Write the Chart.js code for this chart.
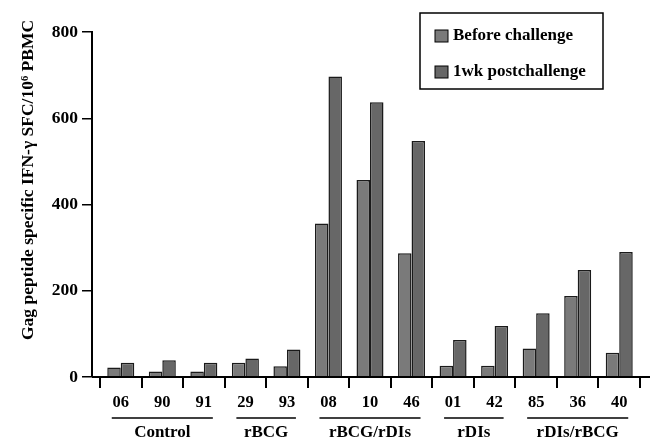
<!DOCTYPE html>
<html>
<head>
<meta charset="utf-8">
<script src="https://cdn.jsdelivr.net/npm/chart.js@4"></script>
<style>
  html, body { margin: 0; padding: 0; background: #fff; }
  canvas { display: block; }
</style>
</head>
<body>
<canvas id="gagChart" width="655" height="443"></canvas>
<script>
// values
const animals = ['06', '90', '91', '29', '93', '08', '10', '46', '01', '42', '85', '36', '40'];
const beforeChallenge = [22, 13, 13, 33, 25, 356, 457, 287, 26, 26, 66, 188, 56];
const postChallenge = [33, 39, 33, 43, 64, 697, 637, 547, 86, 118, 148, 248, 290];
const groupNames = ['Control', 'rBCG', 'rBCG/rDIs', 'rDIs', 'rDIs/rBCG'];
const groupSizes = [3, 2, 3, 2, 3];
const yTicks = [0, 200, 400, 600, 800];

const serif = "'Liberation Serif', 'Times New Roman', serif";
Chart.defaults.font.family = serif;
Chart.defaults.color = '#000';

const beforeColor = '#7a7a7a';
const postColor = '#676767';

// axis title, baseline, group labels and legend box
const extras = {
    id: 'extras',
    afterDraw(chart) {
        const ctx = chart.ctx;
        const area = chart.chartArea;
        const x = chart.scales.x;
        const y = chart.scales.y;
        ctx.save();

        // baseline from the y axis to the right end
        const y0 = y.getPixelForValue(0);
        ctx.strokeStyle = '#000';
        ctx.lineWidth = 2;
        ctx.beginPath();
        ctx.moveTo(y.right, y0);
        ctx.lineTo(area.right + 10, y0);
        ctx.stroke();

        // y title
        ctx.save();
        ctx.translate(28, 180);
        ctx.rotate(-Math.PI / 2);
        ctx.font = 'bold 17.5px ' + serif;
        ctx.textAlign = 'center';
        ctx.textBaseline = 'middle';
        ctx.fillStyle = '#000';
        ctx.fillText('Gag peptide specific IFN-\u03b3 SFC/10\u2076 PBMC', 0, 0);
        ctx.restore();

        // group underlines and names
        let start = 0;
        ctx.font = 'bold 17px ' + serif;
        ctx.textAlign = 'center';
        ctx.textBaseline = 'middle';
        groupNames.forEach((name, i) => {
            const end = start + groupSizes[i] - 1;
            const x1 = x.getPixelForValue(start) - 9;
            const x2 = x.getPixelForValue(end) + 9;
            ctx.lineWidth = 1.5;
            ctx.beginPath();
            ctx.moveTo(x1, 418);
            ctx.lineTo(x2, 418);
            ctx.stroke();
            ctx.fillText(name, (x1 + x2) / 2, 433);
            start = end + 1;
        });

        // legend
        const bx = area.right - 220, by = area.top - 19, bw = 183, bh = 76;
        ctx.lineWidth = 1.5;
        ctx.strokeRect(bx, by, bw, bh);
        ctx.textAlign = 'left';
        chart.data.datasets.forEach((ds, i) => {
            const cy = by + 23 + i * 36;
            ctx.fillStyle = ds.backgroundColor;
            ctx.fillRect(bx + 15, cy - 6, 13, 12);
            ctx.lineWidth = 1;
            ctx.strokeRect(bx + 15, cy - 6, 13, 12);
            ctx.fillStyle = '#000';
            ctx.font = 'bold 17px ' + serif;
            ctx.fillText(ds.label, bx + 33, cy);
        });

        ctx.restore();
    }
};

new Chart(document.getElementById('gagChart'), {
    type: 'bar',
    data: {
        labels: animals,
        datasets: [
            {
                label: 'Before challenge',
                data: beforeChallenge,
                backgroundColor: beforeColor,
                borderColor: '#1a1a1a',
                borderWidth: 1.5,
                borderSkipped: 'bottom'
            },
            {
                label: '1wk postchallenge',
                data: postChallenge,
                backgroundColor: postColor,
                borderColor: '#1a1a1a',
                borderWidth: 1.5,
                borderSkipped: 'bottom'
            }
        ]
    },
    options: {
        responsive: false,
        animation: false,
        layout: { padding: { top: 32, right: 15, left: 0, bottom: 0 } },
        categoryPercentage: 0.65,
        barPercentage: 1,
        plugins: {
            legend: { display: false },
            tooltip: { enabled: false }
        },
        scales: {
            x: {
                grid: {
                    display: true,
                    drawOnChartArea: false,
                    tickLength: 11,
                    color: '#000',
                    lineWidth: 2
                },
                border: { display: false },
                ticks: {
                    padding: 5,
                    font: { size: 16.5, weight: 'bold' }
                },
                afterFit(scale) { scale.height = 66; }
            },
            y: {
                min: 0,
                max: 800,
                weight: 1,
                afterBuildTicks(scale) {
                    scale.ticks = yTicks.map(v => ({ value: v }));
                },
                grid: {
                    display: true,
                    drawOnChartArea: false,
                    tickLength: 10,
                    color: '#000',
                    lineWidth: 1.5
                },
                border: { display: true, color: '#000', width: 2 },
                ticks: {
                    padding: 4,
                    font: { size: 17.5, weight: 'bold' }
                },
                afterFit(scale) { scale.width = 92; }
            },
            gap: {
                position: 'left',
                weight: 0,
                display: true,
                grid: { display: false },
                border: { display: false },
                ticks: { display: false },
                afterFit(scale) { scale.width = 8; }
            }
        }
    },
    plugins: [extras]
});
</script>
</body>
</html>
